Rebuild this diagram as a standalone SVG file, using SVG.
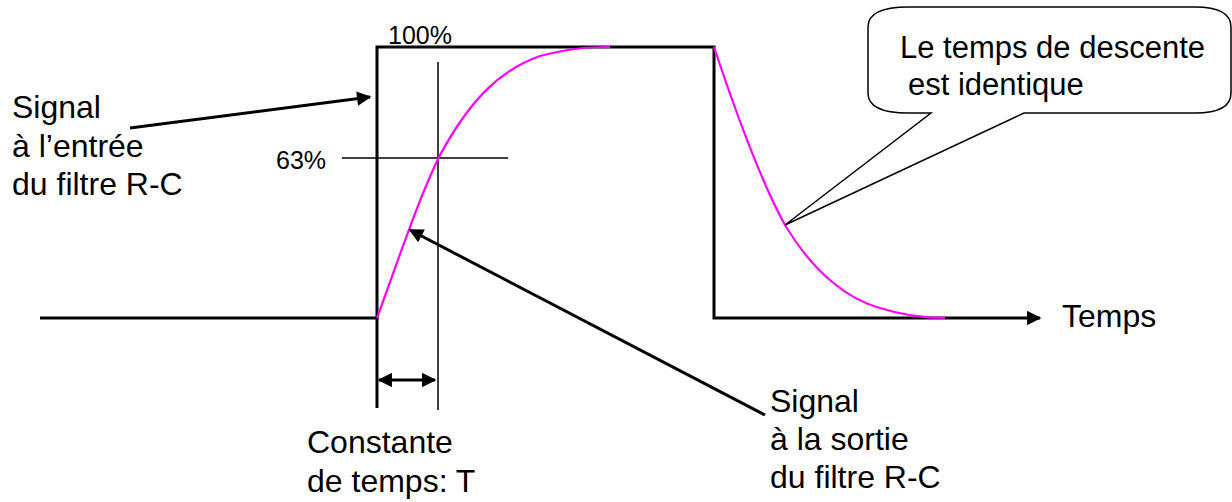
<svg xmlns="http://www.w3.org/2000/svg" width="1232" height="502" viewBox="0 0 1232 502">
<style>
text{font-family:"Liberation Sans",Arial,sans-serif;fill:#000}
.lbl{font-size:32px}
.co{font-size:31px}
.pct{font-size:25px}
.thick{stroke:#000;stroke-width:3;fill:none}
.thin{stroke:#000;stroke-width:1.5;fill:none}
.mag{stroke:#FF00FF;stroke-width:2.2;fill:none}
</style>
<defs>
<marker id="ah" viewBox="0 0 10 10" refX="9" refY="5" markerWidth="5.3" markerHeight="4.8" markerUnits="strokeWidth" orient="auto-start-reverse">
<path d="M0,0 L10,5 L0,10 Z" fill="#000"/>
</marker>
</defs>
<g id="signal-input">
<path class="thick" d="M40,318 H377 V47 H714 V318 H1040" marker-end="url(#ah)"/>
<line class="thick" x1="377" y1="318" x2="377" y2="408"/>
</g>
<g id="guides">
<line class="thin" x1="438" y1="62" x2="438" y2="410"/>
<line class="thin" x1="342" y1="158" x2="508" y2="158"/>
</g>
<g id="signal-output">
<path class="mag" d="M377,318 C400,255 420,195 440,155 C470,100 500,70 540,56 C570,48 590,47 610,47"/>
<path class="mag" d="M714,47 C735,110 760,180 785,225 C815,275 850,300 880,308 C905,316 925,318 945,318"/>
</g>
<g id="callout">
<path d="M908,7 L1195,7 Q1231,7 1231,27 L1231,93 Q1231,113 1195,113 L1024,113 L785,225 L931,113 L908,113 Q868,113 868,93 L868,27 Q868,7 908,7 Z" fill="#fff" stroke="#000" stroke-width="1.5"/>
<text class="co" x="900" y="58">Le temps de descente</text>
<text class="co" x="908" y="95">est identique</text>
</g>
<g id="connectors">
<line class="thick" x1="130" y1="128" x2="370" y2="97" marker-end="url(#ah)"/>
<line class="thick" x1="765" y1="415" x2="410" y2="230" marker-end="url(#ah)"/>
<line class="thick" x1="379" y1="380" x2="435" y2="380" marker-start="url(#ah)" marker-end="url(#ah)"/>
</g>
<g id="labels">
<text class="pct" x="388" y="44">100%</text>
<text class="pct" x="276" y="169">63%</text>
<text class="lbl" x="12" y="118">Signal</text>
<text class="lbl" x="12" y="157">à l’entrée</text>
<text class="lbl" x="12" y="195">du filtre R-C</text>
<text class="lbl" x="307" y="453">Constante</text>
<text class="lbl" x="307" y="492">de temps: T</text>
<text class="lbl" x="770" y="412">Signal</text>
<text class="lbl" x="770" y="450">à la sortie</text>
<text class="lbl" x="770" y="488">du filtre R-C</text>
<text class="lbl" x="1062" y="327">Temps</text>
</g>
</svg>
